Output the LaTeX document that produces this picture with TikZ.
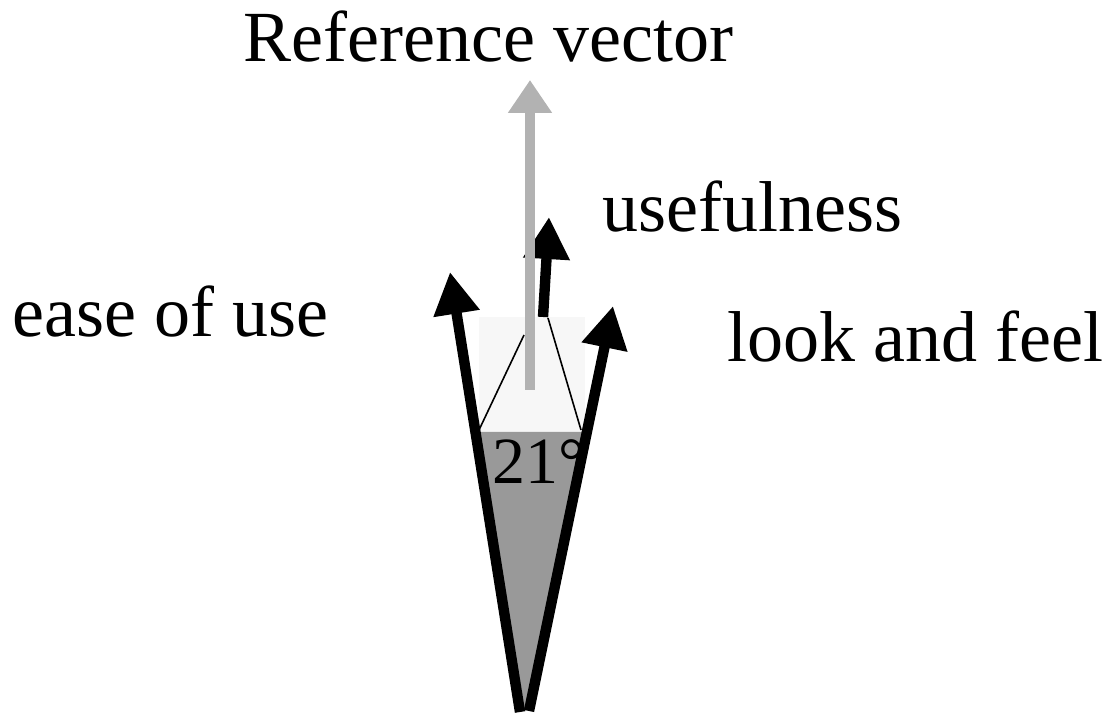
\documentclass[tikz,border=0pt]{standalone}
\usepackage{fontspec}
\setmainfont{Liberation Serif}
\usepackage{tikz}
\usetikzlibrary{arrows.meta}

\begin{document}
\begin{tikzpicture}[x={(0.5pt,0)}, y={(0,-0.5pt)},
        caption/.style={anchor=base west, inner sep=0pt, font=\fontsize{36}{40}\selectfont},
        vec/.style={line width=5.2pt, -{Triangle[length=21pt, width=22pt]}},
        refvec/.style={line width=5pt, black!30, -{Triangle[length=16.5pt, width=21pt]}}]
        \useasboundingbox (0,0) rectangle (1107,715);
        % vector end points
        \coordinate (ease-base) at (520,712);
        \coordinate (ease-tip) at (450,272);
        \coordinate (look-base) at (529,711);
        \coordinate (look-tip) at (613,306);
        \coordinate (use-base) at (543,317);
        \coordinate (use-tip) at (549,217);
        \coordinate (ref-base) at (530,390);
        \coordinate (ref-tip) at (530,80);
        % angle wedge
        \fill[black!3] (479,317) rectangle (585,432);
        \fill[black!40] (479,432) -- (585,432) -- (525,712) -- cycle;
        \draw[line width=0.8pt] (479,430) -- (524,335);
        \draw[line width=0.8pt] (548,318) -- (581,430);
        \draw[vec] (use-base) -- (use-tip);
        \draw[refvec] (ref-base) -- (ref-tip);
        \draw[vec] (ease-base) -- (ease-tip);
        \draw[vec] (look-base) -- (look-tip);
        \node[caption, font=\fontsize{33}{36}\selectfont] (angle) at (492,483) {21°};
        \node[caption] (ref-label) at (243,62) {Reference vector};
        \node[caption] (use-label) at (602,232) {usefulness};
        \node[caption] (ease-label) at (12,337) {ease of use};
        \node[caption] (look-label) at (727,362) {look and feel};
\end{tikzpicture}
\end{document}
